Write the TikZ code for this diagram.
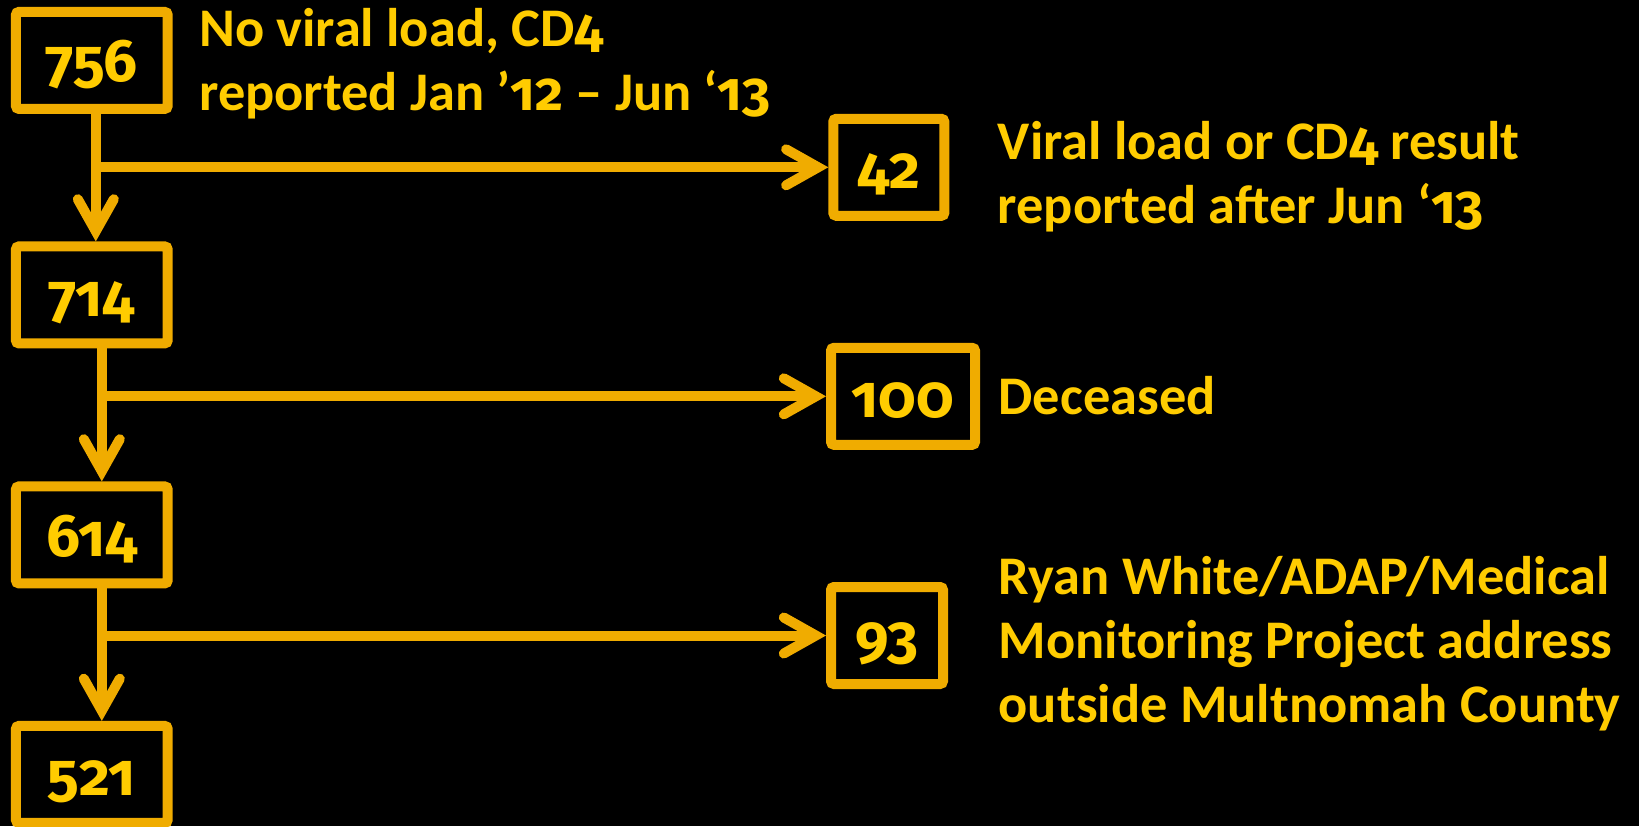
\documentclass[tikz,border=0pt]{standalone}
\usepackage{fontspec}
\setmainfont{Carlito}
\newfontfamily\oldnum{Fira Sans}[Numbers=OldStyle]
\newcommand{\on}[1]{{\oldnum #1}}
\usepackage{tikz}
\usetikzlibrary{arrows.meta,positioning}
\definecolor{boxgold}{RGB}{240,172,0}
\definecolor{textgold}{RGB}{255,204,0}
\tikzset{
	flow chart/.style={
		x=0.5pt, y=-0.5pt,
		>={Straight Barb[length=16pt,width=18pt,line cap=round]}},
	count/.style={draw=boxgold, line width=5pt, rounded corners=1.5pt,
		minimum height=48.5pt, inner sep=0pt,
		text=textgold, font=\oldnum\fontsize{30}{36}\selectfont\bfseries,
		text height=21.5pt, text depth=0pt},
	count wide/.style={count, minimum width=75.85pt},
	reason/.style={text=textgold, font=\fontsize{27.2}{32}\selectfont\bfseries,
		align=left, inner sep=0pt, anchor=base west},
	ar/.style={->, draw=boxgold, line width=5pt}
}

\begin{document}
\begin{tikzpicture}[flow chart]
	\fill[black] (0,0) rectangle (1639,826);
	\useasboundingbox (0,0) rectangle (1639,826);
	% main column
	\node[count wide] (n756) at (91.8,60.4) {756};
	\node[count wide] (n714) at (91.8,294.9) {714};
	\node[count wide] (n614) at (91.8,534.9) {614};
	\node[count wide] (n521) at (91.8,774.4) {521};
	% removed
	\node[count, minimum width=55.5pt] (n42) at (888.8,167.3) {42};
	\node[count, minimum width=72pt] (n100) at (903,396.3) {100};
	\node[count, minimum width=56pt] (n93) at (887,635.5) {93};
	\coordinate (t1) at ([xshift=2pt]n756.south);
	\coordinate (t2) at ([xshift=5pt]n714.south);
	\coordinate (t3) at ([xshift=5pt]n614.south);
	\draw[ar] (t1) -- (t1 |- n714.north);
	\draw[ar] (t2) -- (t2 |- n614.north);
	\draw[ar] (t3) -- (t3 |- n521.north);
	\draw[ar] (t1 |- n42) -- (n42.west);
	\draw[ar] (t2 |- n100) -- (n100.west);
	\draw[ar] (t3 |- n93) -- (n93.west);
	% base anchor = last line
	\node[reason] (r756) at (199,110) {No viral load, CD\on{4}\\reported Jan ’\on{12} – Jun ‘\on{13}};
	\node[reason] (r42) at (997.5,223) {Viral load or CD\on{4} result\\reported after Jun ‘\on{13}};
	\node[reason] (r100) at (998.3,414.3) {Deceased};
	\node[reason] (r93) at (998.3,722.7) {Ryan White/ADAP/Medical\\Monitoring Project address\\outside Multnomah County};
\end{tikzpicture}
\end{document}
